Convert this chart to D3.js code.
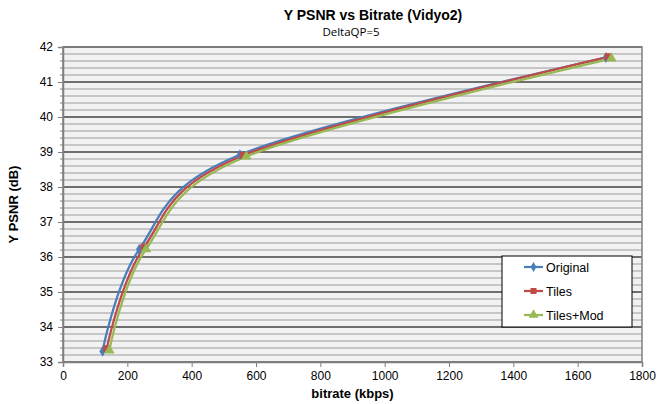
<!DOCTYPE html>
<html>
<head>
<meta charset="utf-8">
<script src="https://cdn.jsdelivr.net/npm/d3@7"></script>
<style>
  body { margin: 0; background: #fff; }
  text { font-family: "Liberation Sans", Arial, sans-serif; }
</style>
</head>
<body>
<svg width="667" height="404"></svg>
<script>
// series (bitrate kbps, Y PSNR dB)
const original = [[123, 33.31], [237, 36.22], [550, 38.92], [1688, 41.70]];
const tiles = [[136, 33.38], [252, 36.28], [560, 38.90], [1695, 41.72]];
const tilesMod = [[144, 33.33], [258, 36.22], [570, 38.87], [1705, 41.67]];
const seriesNames = ["Original", "Tiles", "Tiles+Mod"];
const seriesColors = ["#4a7ebb", "#be4b48", "#98b954"];
const xTicks = [0, 200, 400, 600, 800, 1000, 1200, 1400, 1600, 1800];
const yTicks = [33, 34, 35, 36, 37, 38, 39, 40, 41, 42];

const svg = d3.select("svg");
const margin = { top: 47, right: 25, bottom: 42, left: 63 };
const width = 667 - margin.left - margin.right,
      height = 404 - margin.top - margin.bottom;

const x = d3.scaleLinear().domain([0, 1800]).range([0, width]);
const y = d3.scaleLinear().domain([33, 42]).range([height, 0]);

const g = svg.append("g").attr("transform", `translate(${margin.left},${margin.top})`);

// plot background
g.append("rect").attr("width", width).attr("height", height).attr("fill", "#f2f2f2");

// minor grid every 0.2 dB, major every 1 dB
const minor = d3.range(33, 42.001, 0.2).filter(v => Math.abs(v - Math.round(v)) > 0.01);
g.selectAll(".minor").data(minor).enter().append("line")
  .attr("x1", 0).attr("x2", width)
  .attr("y1", d => y(d)).attr("y2", d => y(d))
  .attr("stroke", "#9a9a9a").attr("stroke-width", 1.2);
g.selectAll(".major").data(yTicks).enter().append("line")
  .attr("x1", 0).attr("x2", width)
  .attr("y1", d => y(d)).attr("y2", d => y(d))
  .attr("stroke", "#6e6e6e").attr("stroke-width", 1.8);

// border
g.append("rect").attr("width", width).attr("height", height)
  .attr("fill", "none").attr("stroke", "#808080").attr("stroke-width", 1.5);

// axes
const yAxis = g.append("g")
  .call(d3.axisLeft(y).tickValues(yTicks).tickSize(5).tickPadding(5));
const xAxis = g.append("g").attr("transform", `translate(0,${height})`)
  .call(d3.axisBottom(x).tickValues(xTicks).tickFormat(d3.format("d")).tickSize(5).tickPadding(4));
// minor ticks on y axis
g.selectAll(".mtick").data(minor).enter().append("line")
  .attr("x1", -3).attr("x2", 0)
  .attr("y1", d => y(d)).attr("y2", d => y(d))
  .attr("stroke", "#808080");
[yAxis, xAxis].forEach(a => {
  a.selectAll("path").attr("stroke", "#808080").attr("stroke-width", 1.5);
  a.selectAll("line").attr("stroke", "#808080");
  a.selectAll("text").attr("font-size", 12).attr("fill", "#000")
    .style("font-family", "'Liberation Sans', Arial, sans-serif");
});

// lines, smoothed like the spreadsheet (uniform catmull-rom)
const line = d3.line().x(d => x(d[0])).y(d => y(d[1])).curve(d3.curveCardinal.tension(0));
const allSeries = [original, tiles, tilesMod];

allSeries.forEach((s, i) => {
  g.append("path").datum(s)
    .attr("d", line).attr("fill", "none")
    .attr("stroke", seriesColors[i]).attr("stroke-width", 2.25);
});

// markers
function marker(sel, i, size) {
  if (i === 0) {
    sel.append("path").attr("d", d3.symbol(d3.symbolDiamond, size * 5)).attr("fill", seriesColors[i]);
  } else if (i === 1) {
    sel.append("rect").attr("x", -size / 2).attr("y", -size / 2)
      .attr("width", size).attr("height", size).attr("fill", seriesColors[i]);
  } else {
    sel.append("path").attr("d", d3.symbol(d3.symbolTriangle, size * 7)).attr("fill", seriesColors[i]);
  }
}
allSeries.forEach((s, i) => {
  s.forEach(d => {
    const m = g.append("g").attr("transform", `translate(${x(d[0])},${y(d[1])})`);
    marker(m, i, 7);
  });
});

// titles
svg.append("text").attr("x", 373).attr("y", 20).attr("text-anchor", "middle")
  .attr("font-size", 14).attr("font-weight", "bold").text("Y PSNR vs Bitrate (Vidyo2)");
svg.append("text").attr("x", 351).attr("y", 36).attr("text-anchor", "middle")
  .attr("font-size", 11.5).style("font-family", "'Open Sans', sans-serif").text("DeltaQP=5");
svg.append("text").attr("x", margin.left + width / 2).attr("y", 398).attr("text-anchor", "middle")
  .attr("font-size", 13).attr("font-weight", "bold").text("bitrate (kbps)");
svg.append("text").attr("transform", `translate(18,${margin.top + height / 2}) rotate(-90)`)
  .attr("text-anchor", "middle").attr("font-size", 13).attr("font-weight", "bold").text("Y PSNR (dB)");

// legend
const lg = svg.append("g").attr("transform", "translate(502,256)");
lg.append("rect").attr("width", 130).attr("height", 71)
  .attr("fill", "#fff").attr("stroke", "#000").attr("stroke-width", 1);
seriesNames.forEach((n, i) => {
  const row = lg.append("g").attr("transform", `translate(0,${11 + i * 24})`);
  row.append("line").attr("x1", 22).attr("x2", 41).attr("stroke", seriesColors[i]).attr("stroke-width", 2.25);
  const m = row.append("g").attr("transform", "translate(31.5,0)");
  marker(m, i, 6);
  row.append("text").attr("x", 44).attr("y", 4.5).attr("font-size", 12.5).text(n);
});
</script>
</body>
</html>
